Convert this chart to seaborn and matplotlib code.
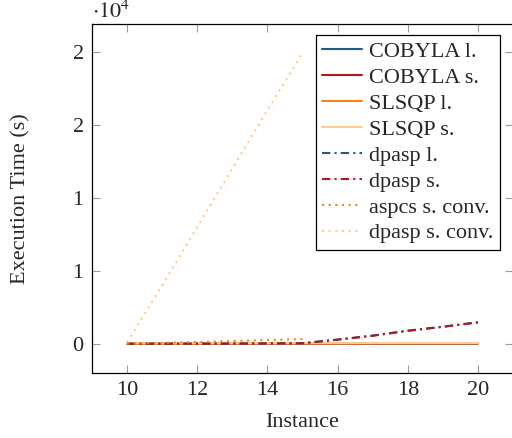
import matplotlib
matplotlib.use("Agg")
import matplotlib.pyplot as plt
import seaborn as sns
import pandas as pd

sns.set_style("ticks")
plt.rcParams['font.family'] = ['Liberation Serif', 'DejaVu Serif']
plt.rcParams['mathtext.fontset'] = 'stix'

# data
inst = [10, 11, 12, 13, 14, 15, 16, 17, 18, 19, 20]
inst_conv = [10, 11, 12, 13, 14, 15]

cobyla_l = [5, 6, 8, 9, 10, 12, 14, 15, 17, 19, 20]
cobyla_s = [4, 5, 6, 8, 9, 10, 12, 13, 14, 16, 18]
slsqp_l = [20, 22, 24, 26, 28, 30, 32, 34, 36, 38, 40]
slsqp_s = [30, 32, 35, 38, 40, 42, 45, 48, 50, 52, 55]
dpasp_l = [2, 5, 10, 15, 25, 40, 290, 560, 900, 1170, 1480]
dpasp_s = [2, 4, 9, 14, 22, 35, 280, 550, 890, 1160, 1460]
aspcs_s_conv = [10, 60, 120, 190, 260, 330]
dpasp_s_conv = [100, 4000, 8000, 12000, 16000, 19900]

ytick_vals = [0, 5000, 10000, 15000, 20000]
ytick_labels = ['0', '1', '1', '2', '2']
xtick_vals = [10, 12, 14, 16, 18, 20]

series = [
    ('COBYLA l.', inst, cobyla_l, '#1f5a8a', '-'),
    ('COBYLA s.', inst, cobyla_s, '#b0181e', '-'),
    ('SLSQP l.', inst, slsqp_l, '#f7821e', '-'),
    ('SLSQP s.', inst, slsqp_s, '#fbd08c', '-'),
    ('dpasp l.', inst, dpasp_l, '#1f5a8a', (0, (4, 2, 1, 2))),
    ('dpasp s.', inst, dpasp_s, '#b0181e', (0, (4, 2, 1, 2))),
    ('aspcs s. conv.', inst_conv, aspcs_s_conv, '#f7821e', (0, (1, 2.2))),
    ('dpasp s. conv.', inst_conv, dpasp_s_conv, '#fbd08c', (0, (1, 2.2))),
]

FS = 16

fig = plt.figure(figsize=(5.12, 4.38), dpi=100)
ax = fig.add_axes([92 / 512, 65 / 438, 421 / 512, 349 / 438])

for name, xs, ys, col, ls in series:
    df = pd.DataFrame({'x': xs, 'y': ys})
    sns.lineplot(data=df, x='x', y='y', ax=ax, color=col, linestyle=ls,
                 linewidth=1.5, label=name)

ax.set_xlim(9, 21)
ax.set_ylim(-2000, 21900)
ax.set_xticks(xtick_vals)
ax.set_yticks(ytick_vals)
ax.set_yticklabels(ytick_labels)
ax.tick_params(direction='in', length=6, width=0.8, color='#9a9a9a',
               top=True, right=True, labelsize=FS, pad=6)
for sp in ax.spines.values():
    sp.set_color('black')
    sp.set_linewidth(0.9)

ax.set_xlabel('Instance', fontsize=FS, labelpad=9)
ax.set_ylabel('Execution Time (s)', fontsize=FS, labelpad=30)
fig.text(92 / 512, 1 - 12 / 438, r'$\cdot 10^4$', fontsize=FS,
         ha='left', va='center')

leg = ax.legend(loc='upper right', bbox_to_anchor=(500 / 512, 1 - 35 / 438),
                bbox_transform=fig.transFigure, borderaxespad=0,
                fontsize=FS, frameon=True, fancybox=False, framealpha=1,
                edgecolor='black', handlelength=1.8, handletextpad=0.3,
                labelspacing=0.24, borderpad=0.3)
leg.get_frame().set_linewidth(0.9)

fig.savefig('out.png', dpi=100)
